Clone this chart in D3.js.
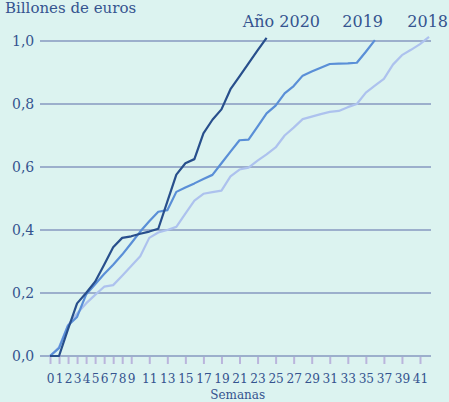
<!DOCTYPE html>
<html>
<head>
<meta charset="utf-8">
<script src="https://cdn.jsdelivr.net/npm/d3@7"></script>
<style>
  html, body { margin: 0; padding: 0; background: #dcf3f0; }
  svg { display: block; font-family: 'DejaVu Serif', serif; }
</style>
</head>
<body>
<svg width="449" height="402"></svg>
<script>
const weeks2020 = d3.range(0, 25);
const values2020 = [0, 0, 0.085, 0.167, 0.2, 0.236, 0.29, 0.345, 0.375, 0.38, 0.388, 0.395, 0.404,
  0.49, 0.576, 0.612, 0.625, 0.707, 0.75, 0.783, 0.847, 0.888, 0.929, 0.97, 1.01];

const weeks2019 = d3.range(0, 37);
const values2019 = [0, 0.025, 0.097, 0.124, 0.195, 0.228, 0.26, 0.29, 0.322, 0.358, 0.395, 0.428, 0.458,
  0.463, 0.521, 0.535, 0.548, 0.562, 0.575, 0.612, 0.649, 0.685, 0.687, 0.728, 0.77, 0.795, 0.834,
  0.857, 0.89, 0.903, 0.915, 0.927, 0.928, 0.929, 0.931, 0.966, 1.003];

const weeks2018 = d3.range(0, 43);
const values2018 = [0, 0.028, 0.098, 0.135, 0.167, 0.194, 0.22, 0.225, 0.255, 0.286, 0.317, 0.375, 0.392,
  0.4, 0.41, 0.452, 0.493, 0.515, 0.52, 0.525, 0.57, 0.592, 0.598, 0.62, 0.64, 0.662, 0.7, 0.725,
  0.752, 0.76, 0.768, 0.775, 0.778, 0.79, 0.8, 0.836, 0.858, 0.88, 0.925, 0.955, 0.972, 0.99, 1.013];

const xTicks = [0, 1, 2, 3, 4, 5, 6, 7, 8, 9, 11, 13, 15, 17, 19, 21, 23, 25, 27, 29, 31, 33, 35, 37, 39, 41];
const yTicks = [0, 0.2, 0.4, 0.6, 0.8, 1.0];
const seriesNames = ['Año 2020', '2019', '2018'];

const colors = { bg: '#dcf3f0', grid: '#9cafcc', tick: '#bab5dc', text: '#35548f' };
const lineColors = ['#284f8c', '#5a8fd7', '#adc2ee'];

const svg = d3.select('svg');
const x = d3.scaleLinear().domain([0, 41]).range([50, 420]);
const y = d3.scaleLinear().domain([0, 1]).range([356, 41]);

// horizontal grid + y labels
svg.append('g')
  .selectAll('line')
  .data(yTicks)
  .join('line')
  .attr('x1', 40)
  .attr('x2', 431)
  .attr('y1', d => y(d))
  .attr('y2', d => y(d))
  .attr('stroke', colors.grid)
  .attr('stroke-width', 2);

svg.append('g')
  .selectAll('text')
  .data(yTicks)
  .join('text')
  .attr('x', 12)
  .attr('y', d => y(d))
  .attr('dy', '0.36em')
  .attr('fill', colors.text)
  .style('font-size', '14px')
  .text(d => d3.format('.1f')(d).replace('.', ','));

// x axis ticks
const xAxis = svg.append('g')
  .attr('transform', `translate(0,${y(0) + 1})`)
  .call(d3.axisBottom(x).tickValues(xTicks).tickSize(7).tickPadding(9));
xAxis.select('.domain').remove();
xAxis.selectAll('line').attr('stroke', colors.tick).attr('stroke-width', 2);
xAxis.selectAll('text')
  .attr('fill', colors.text)
  .style('font-family', "'DejaVu Serif Condensed', 'DejaVu Serif', serif")
  .style('font-stretch', 'condensed')
  .style('font-size', '13.5px');

svg.append('text')
  .attr('x', x(20.8))
  .attr('y', 399)
  .attr('text-anchor', 'middle')
  .attr('fill', colors.text)
  .style('font-size', '12px')
  .text('Semanas');

// lines
const line = d3.line()
  .x(d => x(d[0]))
  .y(d => y(d[1]));

const series = [
  d3.zip(weeks2018, values2018),
  d3.zip(weeks2019, values2019),
  d3.zip(weeks2020, values2020),
];
const seriesColors = [lineColors[2], lineColors[1], lineColors[0]];

svg.append('g')
  .selectAll('path')
  .data(series)
  .join('path')
  .attr('d', line)
  .attr('fill', 'none')
  .attr('stroke', (d, i) => seriesColors[i])
  .attr('stroke-width', 2.2)
  .attr('stroke-linejoin', 'round');

// labels
const labelPos = [[320, 27], [383, 27], [448, 27]];
svg.append('g')
  .selectAll('text')
  .data(seriesNames)
  .join('text')
  .attr('x', (d, i) => labelPos[i][0])
  .attr('y', (d, i) => labelPos[i][1])
  .attr('text-anchor', 'end')
  .attr('fill', colors.text)
  .style('font-size', '16px')
  .text(d => d);

svg.append('text')
  .attr('x', 5)
  .attr('y', 13)
  .attr('fill', colors.text)
  .style('font-size', '15px')
  .text('Billones de euros');
</script>
</body>
</html>
